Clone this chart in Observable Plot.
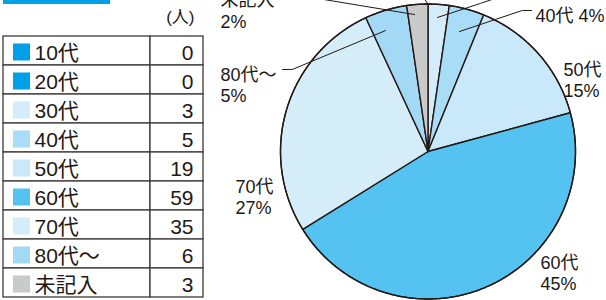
<!DOCTYPE html>
<html>
<head>
<meta charset="utf-8">
<script src="https://cdn.jsdelivr.net/npm/d3@7"></script>
<script src="https://cdn.jsdelivr.net/npm/@observablehq/plot@0.6"></script>
<style>
  html, body { margin: 0; padding: 0; background: #fff; }
  #wrap { position: relative; width: 606px; height: 300px; display: flex; overflow: hidden; }
  #topbar { position: absolute; left: 3px; top: 0; width: 107px; height: 3.5px; background: #00a0e9; }
  svg { display: block; }
</style>
</head>
<body>
<div id="wrap"><div id="topbar"></div></div>
<script>
// ---- data ----
const categories = ["10代", "20代", "30代", "40代", "50代", "60代", "70代", "80代～", "未記入"];
const counts = [0, 0, 3, 5, 19, 59, 35, 6, 3];
const swatchColors = ["#00a0e9", "#00a0e9", "#d5edfa", "#a9dcf6", "#c9e8f9", "#55c3f1", "#d5ecf9", "#a3d9f5", "#c9caca"];
const unitLabel = "(人)";

// ---- styles / layout ----
const ink = "#231815";
const rule = "#3e3a39";
const font = "'Liberation Sans', 'Noto Sans CJK JP', sans-serif";

const rows = categories.map((cat, i) => ({cat, count: counts[i], color: swatchColors[i]}));
const total = d3.sum(counts);

// ---- table ----
const table = Plot.plot({
  width: 206, height: 300, margin: 0,
  x: {domain: [0, 206], range: [0, 206], axis: null},
  y: {domain: categories, range: [35, 298], padding: 0, axis: null},
  color: {type: "identity"},
  marks: [
    Plot.barX(rows, {x1: 3, x2: 150, y: "cat", fill: "white", stroke: rule, strokeWidth: 1.3}),
    Plot.barX(rows, {x1: 150, x2: 203, y: "cat", fill: "white", stroke: rule, strokeWidth: 1.3}),
    Plot.barX(rows, {x1: 13, x2: 30, y: "cat", fill: "color", insetTop: 7.5, insetBottom: 4.5}),
    Plot.text(rows, {x: 34, y: "cat", text: "cat", textAnchor: "start", fontSize: 21, dy: 2, fill: ink, fontFamily: font}),
    Plot.text(rows, {x: 193, y: "cat", text: d => String(d.count), textAnchor: "end", fontSize: 21, dy: 2, fill: ink, fontFamily: font}),
    Plot.text([unitLabel], {frameAnchor: "top-right", dx: -12, dy: 10, lineAnchor: "top", textAnchor: "end", fontSize: 17, fill: ink, fontFamily: font})
  ]
});

// ---- pie ----
const W = 400, H = 300, cx = 221.5, cy = 151, R = 147.5;
const rad = Math.PI / 180;
const polar = (deg, r) => ({x: r * Math.sin(deg * rad), y: r * Math.cos(deg * rad)});

const arcs = d3.pie().sort(null).value(d => d.count)(rows);
const slicePts = [];
for (const a of arcs) {
  if (a.data.count === 0) continue;
  const n = Math.max(2, Math.ceil((a.endAngle - a.startAngle) / (0.5 * rad)));
  slicePts.push({cat: a.data.cat, color: a.data.color, x: 0, y: 0});
  for (let k = 0; k <= n; k++) {
    const t = a.startAngle + (a.endAngle - a.startAngle) * k / n;
    slicePts.push({cat: a.data.cat, color: a.data.color, x: Math.sin(t), y: Math.cos(t)});
  }
  slicePts.push({cat: a.data.cat, color: a.data.color, x: 0, y: 0});
}
const ring = d3.range(0, 361, 0.5).map(d => ({...polar(d, 1)}));

// label placement (polar: angle in degrees clockwise from top, radius in pie radii)
const labelLayout = [
  {cat: "40代", angle: 36.6, r: 1.221, oneLine: true},
  {cat: "50代", angle: 56.1, r: 1.107},
  {cat: "60代", angle: 132.2, r: 1.030},
  {cat: "70代", angle: 262.3, r: 1.317},
  {cat: "80代～", angle: 292.5, r: 1.523},
  {cat: "未記入", angle: 307.8, r: 1.780}
];
const labelRows = labelLayout.map(l => {
  const i = categories.indexOf(l.cat);
  const pct = Math.round(counts[i] / total * 100);
  return {...polar(l.angle, l.r), text: l.oneLine ? `${l.cat} ${pct}%` : `${l.cat}\n${pct}%`};
});

// leader lines (polar points)
const leaderLayout = [
  {cat: "30代", pts: [[4.06, 0.911], [19.5, 1.065], [24.3, 1.145]]},
  {cat: "40代", pts: [[14.7, 0.841], [33.8, 1.151], [36.3, 1.186]]},
  {cat: "80代～", pts: [[340.6, 0.869], [301.2, 1.074], [299.4, 1.132]]},
  {cat: "未記入", pts: [[354.4, 0.933], [320.7, 1.366]]},
  {cat: "10代", pts: [[0, 1.0], [358.3, 1.045]]}
];
const leaderRows = leaderLayout.flatMap(l => l.pts.map(([a, r]) => ({cat: l.cat, ...polar(a, r)})));

const pie = Plot.plot({
  width: W, height: H, margin: 0,
  x: {domain: [-cx / R, (W - cx) / R], axis: null},
  y: {domain: [-(H - cy) / R, cy / R], axis: null},
  color: {type: "identity"},
  marks: [
    Plot.line(slicePts, {x: "x", y: "y", z: "cat", fill: "color", stroke: ink, strokeWidth: 1.4, strokeLinejoin: "round"}),
    Plot.line(ring, {x: "x", y: "y", stroke: ink, strokeWidth: 1.3}),
    Plot.line(leaderRows, {x: "x", y: "y", z: "cat", stroke: ink, strokeWidth: 1}),
    Plot.text(labelRows, {x: "x", y: "y", text: "text", textAnchor: "start", lineAnchor: "top", lineHeight: 1.2, fontSize: 18, fill: ink, fontFamily: font})
  ]
});

const wrap = document.getElementById("wrap");
wrap.appendChild(table);
wrap.appendChild(pie);
</script>
</body>
</html>
